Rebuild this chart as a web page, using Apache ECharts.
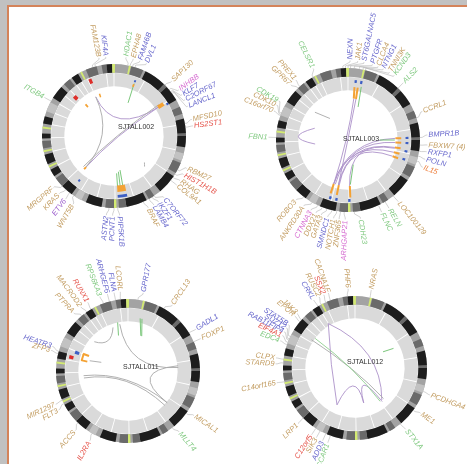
<!DOCTYPE html>
<html><head><meta charset="utf-8">
<script src="https://cdn.jsdelivr.net/npm/echarts@6/dist/echarts.min.js"></script>
<style>
html,body{margin:0;padding:0;width:467px;height:464px;overflow:hidden;background:#c1c1c1;}
#frame{position:absolute;left:7px;top:5px;width:458px;height:457px;background:#fff;border-left:2px solid #d4835a;border-top:2px solid #d4835a;}
#chart{position:absolute;left:0;top:0;width:467px;height:464px;}
</style></head><body><div id="frame"></div><div id="chart"></div>
<script>
// ---------- data ----------
const chromLengths = [249,243,198,191,181,171,159,146,141,136,135,134,115,107,103,90,81,78,59,63,48,51,155,59];
// ideogram bands: [startDeg, endDeg, shade]
const ideogramBands = [
 [0,0.8,'y'],[12,13.5,'y'],[14,24,'d'],[26,44,'k'],[44,47,'d'],[47,60,'k'],[66,72,'d'],
 [76,88,'k'],[88,90,'d'],[90,99,'k'],[104,110,'l'],[112,121,'d'],[124,140,'k'],[146,151,'d'],
 [153,170,'k'],[170,176,'d'],[178,180,'y'],[180,187,'d'],[190,203,'k'],[207,213,'l'],
 [216,226,'k'],[226,234,'d'],[236,242,'k'],[244,245.5,'y'],[247,255,'k'],[257,258.5,'y'],
 [260,266,'d'],[268,272,'k'],[276,277.5,'y'],[280,286,'k'],[290,298,'l'],[302,313,'k'],
 [316,322,'d'],[324,330,'k'],[332,333.5,'y'],[337,346,'d'],[350,354,'d'],[354,358.5,'k'],[358.5,360,'y']
];
const samples = ['SJTALL002','SJTALL003','SJTALL011','SJTALL012'];

// labels: [geneDeg, labelDeg, text, colour]
const labels002 = [
 [343,349,'FAM123B','tan'],[345,354,'KIF4A','blue'],[11,8.7,'HDAC1','green'],[13,14,'EPHA8','tan'],
 [15,19,'FAM46B','blue'],[17,24,'DVL1','blue'],[45,46.5,'SAP130','tan'],[50,54.5,'INHBB','pink'],
 [52,58.7,'KLF7','blue'],[53,63,'C2ORF67','blue'],[54,68,'LANCL1','blue'],[80,78,'MFSD10','tan'],
 [83,82.7,'HS2ST1','red'],[118,114,'RBM27','tan'],[122,119,'HIST1H1B','red'],[125,124,'RHAG','tan'],
 [128,128,'COL9A1','tan'],[146,141,'C7ORF72','blue'],[148,146,'IKZF1','blue'],[151,150,'LAMB4','blue'],
 [156,154.5,'BRAF','tan'],[177,176,'PIP5K1B','blue'],[180,181,'PCNT1','blue'],[184,185.5,'ASTN2','blue'],
 [214,211,'WNT5B','tan'],[218,217.5,'ETV6','purple'],[222,223.5,'KRAS','tan'],[226,229.5,'MRGPRF','tan'],
 [299,299,'ITGB4','green']
];
const labels003 = [
 [356,1.5,'NEXN','blue'],[358,7,'JAK1','tan'],[0,11.6,'ST6GALNAC5','blue'],[2,17.9,'PTGFR','blue'],
 [5,22.2,'CLCA4','tan'],[9,26.3,'NTNG1','blue'],[12,31.4,'TNNI3K','tan'],[14,35.5,'KCND3','green'],
 [44,44,'ALS2','green'],[72,69,'CCRL1','tan'],[88,86.4,'BMPR1B','blue'],[94,93.6,'FBXW7 (4)','tan'],
 [99,98.5,'RXFP1','blue'],[103,104,'POLN','blue'],[107,110,'IL15','orange'],[141,140.8,'LOC100129','tan'],
 [149,149,'RELN','green'],[155,155,'FLNC','green'],[175,171,'CDH23','green'],[183,182,'ARHGAP21','pink'],
 [186,186.4,'ZNF365','tan'],[189,190.4,'NOTCH1','tan'],[193,194.8,'SMNDC1','blue'],[197,199.6,'GATA3','tan'],
 [201,203.7,'DDX21','tan'],[205,207.8,'CTNNA3','pink'],[210,213.8,'ANKRD30A','tan'],[218,220.8,'ROBO3','tan'],
 [272,272,'FBN1','green'],[290,291.4,'C16orf70','tan'],[291,296,'CDK10','tan'],[292,299.4,'CDK19','green'],
 [316,314,'GPR67','tan'],[318,319,'PREX1','tan'],[331,334,'CELSR1','green']
];
const labels011 = [
 [8,11,'GPR177','blue'],[30,33.8,'CRCL13','tan'],[58,58.4,'GADL1','blue'],[66,66,'FOXP1','tan'],
 [126,124,'MICAL1','tan'],[142,140,'MLLT4','green'],[210,208.7,'IL2RA','red'],[224,221.5,'ACCS','tan'],
 [243,240.7,'FLT3','tan'],[246,245.3,'MIR1297','tan'],[284,285,'ZFP3','tan'],[286,288,'HEATR3','blue'],
 [320,317,'PTPRA','tan'],[325,323.7,'MACROD2','tan'],[329,329.6,'RUNX1','red'],[340,339.3,'RPS6KA3','green'],
 [345,345,'ARHGEF6','blue'],[350,349.9,'FLNA','blue'],[354,354.4,'LCORL','tan']
];
const labels012 = [
 [12,11.8,'NRAS','tan'],[109,109.8,'PCDHGA4','tan'],[126,124.6,'ME1','tan'],[141,140.4,'STX1A','green'],
 [200,200,'CCAR1','green'],[204,204,'ADD3','blue'],[209,209,'SIK3','tan'],[213,213,'C12orf5','red'],
 [226,225.7,'LRP1','tan'],[259,259.3,'C14orf165','tan'],[274,273,'STARD9','tan'],[277,277.3,'CLPX','tan'],
 [289,290,'EDC4','green'],[291,294,'EIF4A1','red'],[293,297,'RAB11FIP4','blue'],[294,300.2,'SUZ12','blue'],
 [296,302.9,'STAT5B','blue'],[310,310.8,'EPOR','tan'],[312,313.2,'JAK3','tan'],[329,328.7,'CRKL','blue'],
 [332,333.2,'RUSC2','tan'],[336,336.9,'SSX2','red'],[340,340.4,'CACNA1F','tan'],[354,355,'PHF6','tan']
];
// links: [deg1, r1, deg2, r2, ctrlDeg, ctrlR, colour]
const links002 = [
 [335,60,57,76,0,0,'purple'],[57,76,222,60,0,0,'purple'],[55,76,225,60,0,0,'gray'],
 [335,60,222,60,0,0,'gray'],[131,56,135,60,133,58,'gray']
];
const links003 = [
 [8,58,198,64,0,0,'purple'],[11,58,192,64,0,0,'purple'],[88,66,198,64,0,0,'purple'],
 [93,66,196,64,0,0,'purple'],[99,66,192,64,0,0,'purple'],[105,66,198,64,0,0,'purple'],
 [110,66,191,64,0,0,'purple'],[100,66,178,64,0,0,'purple'],[263,46,289.5,49,272.5,92,'purple']
];
const links011 = [
 [311,62,341,64,326,40,'gray'],[264,62,129,70,0,0,'gray'],[261,62,133,70,0,0,'gray'],
 [84,70,129,70,0,0,'gray'],[86,70,350,66,0,0,'gray']
];
const links012 = [
 [329,72,206,57,278,35,'purple'],[329,72,140,58,54,46,'purple'],[206,57,166,50,0,0,'purple'],
 [166,50,141,60,0,0,'purple'],[303,72,137,58,0,0,'gray'],[306.6,69,143,58,0,0,'green']
];
// marks: [deg, r0, r1, widthDeg, colour]
const marks002 = [
 [337,79,86,3,'red'],[315,72,78,4,'red'],[341,57,62,2,'orange'],[318,54,59,2.5,'orange'],
 [21,73,77,2,'orange'],[21,80,83,1.8,'blue'],[57,73,82,4,'orange'],[59,85,88,2,'blue'],
 [172,69,78,9,'orange'],[172,82,86,9,'blue'],[218,77,80,2,'blue'],[222,58,62,2.5,'orange']
];
const marks003 = [
 [7.5,80,84,2.2,'blue'],[13,80,84,2.2,'blue'],[88,80,84,2.2,'blue'],[93,80,84,2.2,'blue'],
 [101,80,84,2.2,'blue'],[109,80,84,2.2,'blue'],[197,82,86,2.2,'blue'],[191,82,86,2.2,'blue'],[178.7,82,86,2.2,'blue']
];
const marks011 = [[283.6,78,84,3.5,'red'],[289.6,72,78,3.5,'blue']];
const marks012 = [];
// segments: [deg1, r1, deg2, r2, colour]
const segs002 = [[21,78,23,50,'green'],[170,70,170,48,'green'],[173,70,173,50,'green'],[176,70,176,52,'green']];
const segs003 = [
 [7,74,8,58,'orange'],[10.5,74,11,58,'orange'],[88,74,88,66,'orange'],[93,74,93,66,'orange'],
 [99,74,99,66,'orange'],[105,74,105,66,'orange'],[110,74,110,66,'orange'],[198,78,198,64,'orange'],
 [191.5,78,191.5,64,'orange'],[177.7,80,177.7,64,'orange'],[14,76,17,48,'green'],[90,65,90,44,'green'],
 [177,62,168,35,'green'],[310,60,320,39,'gray']
];
const segs011 = [
 [283,58,283,67,'orange'],[291,58,291,67,'orange'],[283,66,291,66,'orange'],
 [348,69,345,51,'green'],[13,75,20,52,'green'],[15,75,21.5,52,'green'],[285,55,288,39,'gray']
];
const segs012 = [[60,45,63,60,'green']];

// ---------- styles / layout ----------
const labelColors = {tan:'#c29c60',blue:'#6767cc',red:'#e5544b',green:'#80c980',pink:'#d56ad0',purple:'#9a5ccc',orange:'#ee7d3a'};
const shadeColors = {k:'#1d1d1d',d:'#6a6a6a',l:'#c2c2c2',y:'#d3ea72'};
const linkColors = {purple:'#ad92c9',gray:'#a8a8a8',green:'#8fcf8f'};
const markColors = {orange:'#f4a234',blue:'#3d5fc4',red:'#dd2e2a',green:'#6cc06c',gray:'#a8a8a8'};
const centers = [[114,136],[348,140],[128,371],[355,368]];
const titleOffsets = [[4,-9],[-5,-1],[-5,-4],[-8,-6]];
const RADIUS = 72;
const R_IDEO = [88,100], R_TRACK = [69,87.5], R_LABEL = 112;

const plots = [
 {labels:labels002,links:links002,marks:marks002,segs:segs002},
 {labels:labels003,links:links003,marks:marks003,segs:segs003},
 {labels:labels011,links:links011,marks:marks011,segs:segs011},
 {labels:labels012,links:links012,marks:marks012,segs:segs012}
];

const total = chromLengths.reduce((a,b)=>a+b,0);
const chromSpans = []; {let acc=0; chromLengths.forEach(l=>{chromSpans.push([acc/total*360,(acc+l)/total*360]); acc+=l;});}

function geo(params, api){
  const cs = params.coordSys, cx = cs.cx, cy = cs.cy;
  const P = (r,a)=>{const p=api.coord([r,a]); return [p[0],p[1]];};
  const A = (a)=>{const p=api.coord([100,a]); return Math.atan2(p[1]-cy,p[0]-cx);};
  const R = (r)=>{const p=api.coord([r,0]); return Math.hypot(p[0]-cx,p[1]-cy);};
  return {cx,cy,P,A,R};
}
function sector(g,a0,a1,r0,r1,fill){
  let s=g.A(a0), e=g.A(a1); while(e<=s) e+=Math.PI*2;
  return {type:'sector',shape:{cx:g.cx,cy:g.cy,r0:g.R(r0),r:g.R(r1),startAngle:s,endAngle:e,clockwise:true},style:{fill:fill}};
}
function cs(pi, n, render, z){
  const arr=[]; for(let i=0;i<n;i++) arr.push([0,0]);
  return {type:'custom',coordinateSystem:'polar',polarIndex:pi,data:arr,silent:true,animation:false,z:z,
    renderItem:(params,api)=>render(geo(params,api),params.dataIndex)};
}

const series = [];
plots.forEach((pl,pi)=>{
  series.push(cs(pi, chromSpans.length, (g,i)=>sector(g,chromSpans[i][0]+0.45,chromSpans[i][1]-0.45,R_TRACK[0],R_TRACK[1],'#dadada'),1));
  series.push(cs(pi, 1, (g)=>sector(g,0,360,R_IDEO[0],R_IDEO[1],'#a3a3a3'),2));
  series.push(cs(pi, ideogramBands.length, (g,i)=>{const b=ideogramBands[i]; return sector(g,b[0],b[1],R_IDEO[0],R_IDEO[1],shadeColors[b[2]]);},3));
  series.push(cs(pi, pl.links.length, (g,i)=>{
    const l=pl.links[i]; const p0=g.P(l[1],l[0]), p2=g.P(l[3],l[2]), c=g.P(l[5],l[4]);
    return {type:'bezierCurve',shape:{x1:p0[0],y1:p0[1],x2:p2[0],y2:p2[1],cpx1:c[0],cpy1:c[1]},style:{stroke:linkColors[l[6]],lineWidth:0.9,fill:null}};
  },4));
  series.push(cs(pi, pl.segs.length, (g,i)=>{
    const s=pl.segs[i]; const p0=g.P(s[1],s[0]), p1=g.P(s[3],s[2]);
    return {type:'line',shape:{x1:p0[0],y1:p0[1],x2:p1[0],y2:p1[1]},style:{stroke:markColors[s[4]],lineWidth:s[4]==='orange'?2:0.9}};
  },5));
  series.push(cs(pi, pl.marks.length, (g,i)=>{const m=pl.marks[i]; return sector(g,m[0]-m[3]/2,m[0]+m[3]/2,m[1],m[2],markColors[m[4]]);},6));
  series.push(cs(pi, pl.labels.length, (g,i)=>{
    const L=pl.labels[i]; const pts=[g.P(100,L[0]),g.P(103,L[0]),g.P(108.5,L[1]),g.P(110.5,L[1])];
    const tp=g.P(R_LABEL,L[1]); const phi=Math.atan2(tp[1]-g.cy,tp[0]-g.cx);
    const right=Math.cos(phi)>=-1e-6;
    return {type:'group',children:[
      {type:'polyline',shape:{points:pts},style:{stroke:'#b5b5b5',lineWidth:0.6,fill:null}},
      {type:'text',x:tp[0],y:tp[1],rotation:right?-phi:Math.PI-phi,
        style:{text:L[2],fill:labelColors[L[3]],fontSize:7.5,fontStyle:'italic',fontFamily:'Liberation Sans, Arial, sans-serif',align:right?'left':'right',verticalAlign:'middle'}}
    ]};
  },7));
  series.push(cs(pi, 1, (g)=>{const c=g.P(0,0); const o=titleOffsets[pi]; return {type:'text',x:c[0]+o[0],y:c[1]+o[1],style:{text:samples[pi],fill:'#333',fontSize:7,fontFamily:'Liberation Sans, Arial, sans-serif',align:'left',verticalAlign:'middle'}};},8));
});

const chart = echarts.init(document.getElementById('chart'),null,{renderer:'canvas'});
chart.setOption({
  animation:false,
  backgroundColor:'transparent',
  polar: centers.map(c=>({center:c,radius:RADIUS})),
  angleAxis: centers.map((c,i)=>({polarIndex:i,type:'value',min:0,max:360,startAngle:90,clockwise:true,show:false})),
  radiusAxis: centers.map((c,i)=>({polarIndex:i,type:'value',min:0,max:100,show:false})),
  series: series
});
</script></body></html>
